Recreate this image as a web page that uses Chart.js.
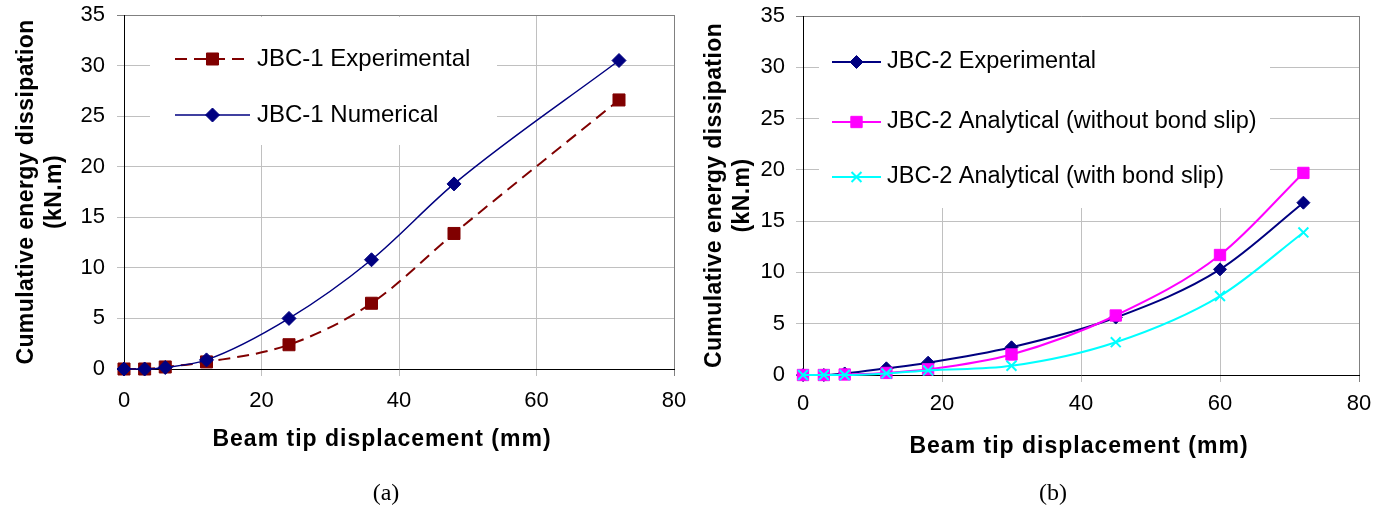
<!DOCTYPE html>
<html>
<head>
<meta charset="utf-8">
<script src="https://cdn.jsdelivr.net/npm/chart.js@4.4.1/dist/chart.umd.min.js"></script>
<style>
  body { margin: 0; background: #fff; }
  #wrap { position: relative; width: 1393px; height: 516px; overflow: hidden; }
  canvas { position: absolute; top: 0; }
  .cap { position: absolute; top: 478px; line-height: 28px; font-size: 24px;
         font-family: "Liberation Serif", "Times New Roman", serif; transform: translateX(-50%); }
</style>
</head>
<body>
<div id="wrap">
  <canvas id="chartA" width="690" height="516" style="left:0"></canvas>
  <canvas id="chartB" width="703" height="516" style="left:690px"></canvas>
  <div class="cap" style="left:386px">(a)</div>
  <div class="cap" style="left:1053px">(b)</div>
</div>
<script>
// (a) JBC-1 : beam tip displacement (mm) vs cumulative energy (kN.m)
const dispA = [0, 3, 6, 12, 24, 36, 48, 72];
const expA  = [0, 0, 0.2, 0.7, 2.4, 6.5, 13.4, 26.6];
const numA  = [0, 0, 0.15, 0.9, 5.0, 10.8, 18.3, 30.5];

// (b) JBC-2
const dispB    = [0, 3, 6, 12, 18, 30, 45, 60, 72];
const expB     = [0, 0, 0.15, 0.65, 1.2, 2.7, 5.6, 10.3, 16.8];
const noSlipB  = [0, 0, 0.05, 0.2, 0.55, 2.0, 5.8, 11.7, 19.7];
const slipB    = [0, 0, 0, 0.15, 0.45, 0.9, 3.2, 7.7, 13.9];

const xTicks = [0, 20, 40, 60, 80];
const yTicks = [0, 5, 10, 15, 20, 25, 30, 35];

const xTitle = 'Beam tip displacement (mm)';
const yTitle = ['Cumulative energy dissipation', '(kN.m)'];

Chart.defaults.font.family = '"Liberation Sans", Arial, sans-serif';
Chart.defaults.color = '#000';

const pts = (xs, ys) => xs.map((x, i) => ({ x: x, y: ys[i] }));

// legend drawn inside the plot, on a white patch over the grid
const insetLegend = {
  id: 'insetLegend',
  beforeDatasetsDraw(chart, args, opts) {
    const ctx = chart.ctx;
    ctx.save();
    ctx.fillStyle = '#fff';
    ctx.fillRect(opts.box[0], opts.box[1], opts.box[2], opts.box[3]);
    chart.data.datasets.forEach((ds, i) => {
      const y = opts.rows[i];
      ctx.strokeStyle = ds.borderColor;
      ctx.lineWidth = ds.borderWidth;
      ctx.setLineDash(ds.borderDash || []);
      ctx.beginPath();
      ctx.moveTo(opts.x0, y);
      ctx.lineTo(opts.x1, y);
      ctx.stroke();
      ctx.setLineDash([]);
      ctx.fillStyle = ds.pointBackgroundColor;
      ctx.strokeStyle = ds.pointBorderColor;
      ctx.lineWidth = ds.pointBorderWidth;
      Chart.helpers.drawPoint(ctx, {
        pointStyle: ds.pointStyle, radius: ds.pointRadius,
        borderWidth: ds.pointBorderWidth, rotation: 0
      }, (opts.x0 + opts.x1) / 2, y);
      ctx.fillStyle = '#000';
      ctx.font = opts.font;
      ctx.textBaseline = 'middle';
      ctx.textAlign = 'left';
      ctx.fillText(ds.label, opts.textX, y);
    });
    ctx.restore();
  }
};

// bold axis titles are a little wider-set than the default canvas text
function spaceTitle(s, spacing, dx) {
  if (s._spaced) return;
  s._spaced = true;
  const draw = s.drawTitle;
  s.drawTitle = function () {
    this.ctx.save();
    this.ctx.letterSpacing = spacing;
    this.ctx.translate(dx, 0);
    draw.call(this);
    this.ctx.restore();
  };
}

function scales(o) {
  const gridFor = (edge) => ({
    color: c => (c.tick && c.tick.value === edge) ? '#808080' : '#c0c0c0',
    lineWidth: 1,
    tickLength: 7
  });
  return {
    x: {
      type: 'linear',
      min: xTicks[0], max: xTicks[xTicks.length - 1],
      afterBuildTicks: s => { s.ticks = xTicks.map(v => ({ value: v })); },
      afterFit: s => {
        s.height = o.xHeight;
        s.paddingLeft = 0;
        s.paddingRight = 0;
        spaceTitle(s, '1px', o.xTitleDx);
      },
      grid: gridFor(xTicks[xTicks.length - 1]),
      border: { color: '#000', width: 1 },
      ticks: { font: { size: 22 }, padding: o.tickPadX, maxRotation: 0 },
      title: {
        display: true, text: xTitle,
        font: { size: 23, weight: 'bold', lineHeight: 1.25 },
        padding: { top: 0, bottom: o.xTitlePad }
      }
    },
    y: {
      type: 'linear',
      min: yTicks[0], max: yTicks[yTicks.length - 1],
      afterBuildTicks: s => { s.ticks = yTicks.map(v => ({ value: v })); },
      afterFit: s => {
        s.width = o.yWidth;
        s.paddingTop = 0;
        s.paddingBottom = 0;
        spaceTitle(s, '0.4px', 0);
      },
      grid: gridFor(yTicks[yTicks.length - 1]),
      border: { color: '#000', width: 1 },
      ticks: { font: { size: 22 }, padding: o.tickPadY },
      title: {
        display: true, text: yTitle,
        font: { size: 23, weight: 'bold', lineHeight: 1.25 },
        padding: { top: o.yTitlePad, bottom: 0 }
      }
    }
  };
}

function series(label, xs, ys, color, style, radius, extra) {
  return Object.assign({
    label: label,
    data: pts(xs, ys),
    borderColor: color,
    backgroundColor: color,
    pointBackgroundColor: color,
    pointBorderColor: color,
    pointBorderWidth: 1,
    pointStyle: style,
    pointRadius: radius,
    borderWidth: 2,
    cubicInterpolationMode: 'monotone',
    clip: false
  }, extra || {});
}

const common = {
  responsive: false,
  animation: false,
  events: [],
  plugins: { legend: { display: false }, tooltip: { enabled: false } }
};

new Chart(document.getElementById('chartA'), {
  type: 'line',
  data: {
    datasets: [
      series('JBC-1 Experimental', dispA, expA, '#800000', 'rect', 8.5,
             { borderDash: [12, 7], order: 1 }),
      series('JBC-1 Numerical', dispA, numA, '#000080', 'rectRot', 7,
             { borderWidth: 1.5, order: 0 })
    ]
  },
  options: Object.assign({}, common, {
    layout: { padding: { left: 0, top: 15, right: 16, bottom: 0 } },
    scales: scales({ yWidth: 124, xHeight: 147, xTitlePad: 62, yTitlePad: 12,
                     tickPadX: 12, tickPadY: 12, xTitleDx: -17 }),
    plugins: Object.assign({}, common.plugins, {
      insetLegend: { box: [150, 17, 347, 128], rows: [59, 115], x0: 175, x1: 250,
                     textX: 257, font: '24px "Liberation Sans", Arial, sans-serif' }
    })
  }),
  plugins: [insetLegend]
});

new Chart(document.getElementById('chartB'), {
  type: 'line',
  data: {
    datasets: [
      series('JBC-2 Experimental', dispB, expB, '#000080', 'rectRot', 6.5, { order: 2 }),
      series('JBC-2 Analytical (without bond slip)', dispB, noSlipB, '#ff00ff', 'rect', 8, { order: 1 }),
      series('JBC-2 Analytical (with bond slip)', dispB, slipB, '#00ffff', 'crossRot', 7,
             { pointBorderWidth: 2, order: 0 })
    ]
  },
  options: Object.assign({}, common, {
    layout: { padding: { left: 0, top: 16, right: 34, bottom: 0 } },
    scales: scales({ yWidth: 113, xHeight: 141, xTitlePad: 55, yTitlePad: 10,
                     tickPadX: 9, tickPadY: 11, xTitleDx: -2 }),
    plugins: Object.assign({}, common.plugins, {
      insetLegend: { box: [129, 17, 451, 191], rows: [62, 122, 177], x0: 142, x1: 191,
                     textX: 197, font: '23.5px "Liberation Sans", Arial, sans-serif' }
    })
  }),
  plugins: [insetLegend]
});
</script>
</body>
</html>
